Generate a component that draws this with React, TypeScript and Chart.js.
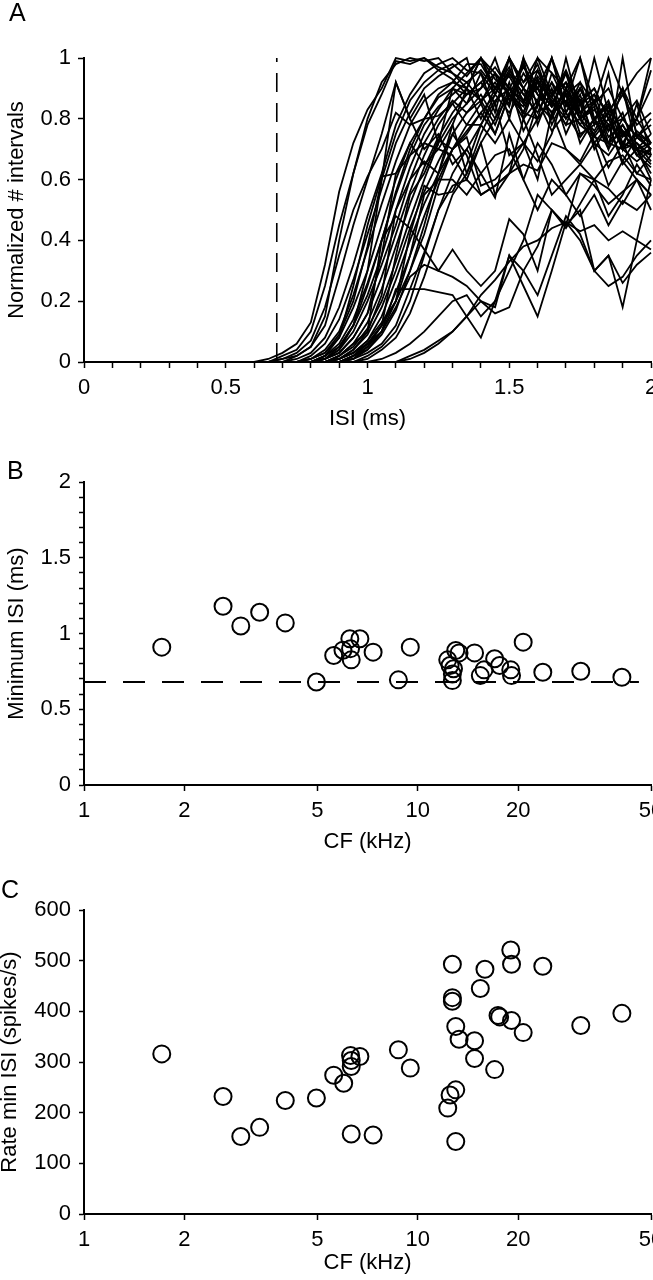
import React, { useEffect, useRef } from "react";
import { Chart, registerables } from "chart.js";

Chart.register(...registerables);

const FONT = "'Liberation Sans', Arial, Helvetica, sans-serif";
const FS = 22;

// ---------- Panel A data ----------
const ISI_MS = [0, 0.6, 0.65, 0.7, 0.75, 0.8, 0.85, 0.9, 0.95, 1.0, 1.05, 1.1, 1.15, 1.2, 1.25, 1.3, 1.35, 1.4, 1.45, 1.5, 1.55, 1.6, 1.65, 1.7, 1.75, 1.8, 1.85, 1.9, 1.95, 2.0];

const UNIT_CURVES: number[][] = [
  [0, 0, 0.01, 0.03, 0.06, 0.13, 0.32, 0.56, 0.72, 0.83, 0.9, 1.0, 0.99, 1.0, 0.97, 0.95, 0.9, 1.0, 0.9, 0.97, 0.85, 1.0, 0.88, 0.95, 0.8, 1.0, 0.82, 0.9, 0.75, 0.72],
  [0, 0, 0, 0.02, 0.04, 0.1, 0.25, 0.45, 0.62, 0.78, 0.88, 0.99, 0.98, 1.0, 0.96, 0.93, 0.88, 0.9, 1.0, 0.86, 0.98, 0.84, 1.0, 0.82, 0.92, 0.78, 0.95, 0.7, 0.85, 0.68],
  [0, 0, 0, 0.01, 0.03, 0.07, 0.18, 0.35, 0.5, 0.61, 0.7, 0.82, 0.78, 0.8, 0.81, 0.85, 0.78, 0.85, 0.75, 0.88, 0.82, 0.8, 0.86, 0.78, 0.8, 0.75, 0.82, 0.7, 0.72, 0.68],
  [0, 0, 0, 0, 0.02, 0.05, 0.12, 0.28, 0.45, 0.6, 0.75, 0.92, 0.8, 0.88, 0.72, 0.9, 0.85, 0.95, 0.88, 1.0, 0.9, 0.98, 0.85, 0.92, 0.8, 0.83, 0.76, 0.9, 0.7, 0.75],
  [0, 0, 0, 0, 0.01, 0.03, 0.08, 0.18, 0.32, 0.48, 0.62, 0.78, 0.88, 0.95, 0.98, 1.0, 0.96, 0.95, 0.82, 1.0, 0.8, 0.93, 0.78, 0.88, 0.72, 0.8, 0.7, 1.0, 0.74, 0.8],
  [0, 0, 0, 0, 0, 0.02, 0.06, 0.14, 0.27, 0.42, 0.57, 0.72, 0.82, 0.9, 0.94, 0.97, 1.0, 0.85, 0.95, 0.8, 1.0, 0.78, 0.9, 0.75, 0.85, 0.7, 0.78, 0.66, 0.74, 0.7],
  [0, 0, 0, 0, 0, 0.01, 0.04, 0.1, 0.22, 0.37, 0.52, 0.66, 0.78, 0.86, 0.9, 0.92, 0.98, 0.98, 0.9, 1.0, 0.92, 0.96, 0.88, 0.92, 0.85, 0.88, 0.82, 0.9, 0.8, 1.0],
  [0, 0, 0, 0, 0, 0.01, 0.03, 0.08, 0.18, 0.3, 0.45, 0.6, 0.72, 0.8, 0.87, 0.9, 0.88, 0.92, 0.85, 0.95, 0.88, 0.9, 0.8, 1.0, 0.82, 0.86, 0.74, 0.78, 0.7, 0.65],
  [0, 0, 0, 0, 0, 0, 0.02, 0.06, 0.14, 0.26, 0.4, 0.55, 0.68, 0.78, 0.84, 0.88, 0.92, 0.86, 0.78, 0.9, 0.82, 0.96, 0.84, 0.88, 0.8, 0.72, 0.78, 0.65, 0.7, 0.6],
  [0, 0, 0, 0, 0, 0, 0.02, 0.05, 0.12, 0.22, 0.35, 0.5, 0.64, 0.75, 0.83, 0.9, 0.95, 1.0, 0.93, 0.88, 0.97, 0.9, 1.0, 0.88, 0.92, 0.85, 0.9, 0.8, 0.86, 0.75],
  [0, 0, 0, 0, 0, 0, 0.01, 0.04, 0.1, 0.2, 0.32, 0.45, 0.6, 0.72, 0.8, 0.86, 0.82, 0.88, 0.8, 0.92, 0.76, 0.85, 0.92, 0.8, 0.88, 0.72, 0.68, 0.75, 0.7, 0.62],
  [0, 0, 0, 0, 0, 0, 0.01, 0.03, 0.08, 0.16, 0.28, 0.42, 0.56, 0.68, 0.78, 0.85, 0.9, 0.8, 0.9, 0.85, 0.95, 0.88, 0.82, 0.9, 0.75, 0.78, 0.82, 0.7, 0.76, 0.72],
  [0, 0, 0, 0, 0, 0, 0, 0.02, 0.06, 0.13, 0.24, 0.38, 0.52, 0.64, 0.74, 0.82, 0.88, 0.92, 0.97, 0.9, 0.85, 0.93, 0.87, 0.95, 0.82, 0.88, 0.76, 0.82, 0.68, 0.72],
  [0, 0, 0, 0, 0, 0, 0, 0.02, 0.05, 0.11, 0.2, 0.33, 0.47, 0.6, 0.72, 0.8, 0.85, 0.9, 0.95, 0.88, 0.82, 0.92, 0.86, 0.8, 0.86, 0.74, 0.8, 0.7, 0.66, 0.7],
  [0, 0, 0, 0, 0, 0, 0, 0.01, 0.04, 0.09, 0.18, 0.3, 0.44, 0.56, 0.66, 0.75, 0.82, 0.86, 0.9, 0.95, 0.88, 0.82, 0.92, 0.85, 0.78, 0.86, 0.72, 0.8, 0.74, 0.7],
  [0, 0, 0, 0, 0, 0, 0, 0.01, 0.03, 0.07, 0.15, 0.27, 0.4, 0.52, 0.62, 0.7, 0.78, 0.78, 0.88, 0.82, 0.9, 0.8, 0.95, 0.85, 1.0, 0.8, 0.85, 0.75, 0.8, 0.96],
  [0, 0, 0, 0, 0, 0, 0, 0, 0.02, 0.05, 0.12, 0.23, 0.35, 0.48, 0.6, 0.7, 0.76, 0.82, 0.75, 0.88, 0.8, 0.86, 0.76, 0.82, 0.74, 0.8, 0.72, 0.76, 0.68, 0.64],
  [0, 0, 0, 0, 0, 0, 0.02, 0.08, 0.25, 0.45, 0.61, 0.62, 0.72, 0.65, 0.7, 0.68, 0.6, 0.72, 0.55, 0.62, 0.8, 0.68, 0.55, 0.6, 0.65, 0.72, 0.58, 0.66, 0.6, 0.55],
  [0, 0, 0, 0, 0, 0, 0, 0.02, 0.06, 0.1, 0.22, 0.5, 0.6, 0.66, 0.62, 0.75, 0.68, 0.55, 0.58, 0.62, 0.7, 0.85, 0.8, 0.9, 0.82, 0.76, 0.84, 0.72, 0.7, 0.68],
  [0, 0, 0, 0, 0, 0, 0, 0, 0.02, 0.06, 0.12, 0.35, 0.55, 0.62, 0.73, 0.7, 0.74, 0.58, 0.6, 0.65, 0.72, 0.8, 0.86, 0.78, 0.9, 0.8, 0.72, 0.7, 0.75, 0.7],
  [0, 0, 0, 0, 0, 0, 0, 0, 0.01, 0.05, 0.1, 0.2, 0.42, 0.58, 0.55, 0.56, 0.65, 0.78, 0.72, 0.8, 0.72, 0.66, 0.75, 0.9, 0.8, 0.84, 0.7, 0.78, 0.7, 0.72],
  [0, 0, 0, 0, 0, 0, 0, 0, 0, 0.02, 0.05, 0.1, 0.2, 0.35, 0.5, 0.62, 0.7, 0.78, 0.86, 0.9, 0.86, 0.94, 0.88, 0.96, 0.85, 0.9, 0.8, 0.88, 0.78, 0.82],
  [0, 0, 0, 0, 0, 0, 0, 0, 0, 0.01, 0.04, 0.08, 0.16, 0.28, 0.42, 0.55, 0.62, 0.72, 0.8, 0.88, 0.84, 0.92, 0.87, 0.82, 0.9, 0.8, 0.86, 0.74, 0.8, 0.72],
  [0, 0, 0, 0, 0, 0, 0, 0, 0.01, 0.03, 0.06, 0.12, 0.24, 0.36, 0.5, 0.58, 0.6, 0.55, 0.58, 0.62, 0.65, 0.63, 0.72, 0.7, 0.65, 0.6, 0.66, 0.68, 0.62, 0.6],
  [0, 0, 0, 0, 0, 0, 0, 0, 0.01, 0.04, 0.1, 0.18, 0.28, 0.32, 0.3, 0.37, 0.3, 0.25, 0.3, 0.47, 0.42, 0.3, 0.5, 0.45, 0.62, 0.58, 0.52, 0.56, 0.6, 0.5],
  [0, 0, 0, 0, 0, 0, 0, 0, 0.02, 0.06, 0.1, 0.24, 0.24, 0.24, 0.23, 0.22, 0.15, 0.08, 0.2, 0.35, 0.25, 0.15, 0.3, 0.46, 0.4, 0.3, 0.25, 0.28, 0.35, 0.4],
  [0, 0, 0, 0, 0, 0, 0, 0, 0, 0, 0, 0, 0.02, 0.04, 0.07, 0.1, 0.15, 0.22, 0.27, 0.33, 0.38, 0.4, 0.44, 0.46, 0.43, 0.45, 0.4, 0.43, 0.4, 0.37],
  [0, 0, 0, 0, 0, 0, 0, 0, 0, 0, 0, 0, 0.01, 0.03, 0.06, 0.1, 0.15, 0.2, 0.16, 0.18, 0.3, 0.38, 0.5, 0.44, 0.52, 0.6, 0.48, 0.55, 0.65, 0.58],
  [0, 0, 0, 0, 0, 0, 0, 0, 0, 0, 0.01, 0.03, 0.06, 0.1, 0.15, 0.2, 0.22, 0.15, 0.2, 0.3, 0.4, 0.55, 0.5, 0.45, 0.5, 0.3, 0.35, 0.18, 0.4, 0.6],
  [0, 0, 0, 0, 0, 0, 0, 0.01, 0.04, 0.1, 0.4, 0.48, 0.44, 0.37, 0.3, 0.28, 0.25, 0.2, 0.18, 0.35, 0.3, 0.22, 0.35, 0.48, 0.42, 0.3, 0.35, 0.26, 0.32, 0.36],
  [0, 0, 0, 0, 0, 0, 0, 0.01, 0.03, 0.07, 0.13, 0.2, 0.35, 0.55, 0.6, 0.6, 0.55, 0.62, 0.54, 0.75, 0.6, 0.5, 0.6, 0.55, 0.48, 0.55, 0.45, 0.53, 0.5, 0.55],
  [0, 0, 0, 0, 0, 0, 0.01, 0.03, 0.08, 0.16, 0.35, 0.62, 0.68, 0.72, 0.7, 0.78, 0.62, 0.75, 0.85, 0.68, 0.72, 0.6, 0.82, 0.7, 0.66, 0.75, 0.64, 0.72, 0.62, 0.68],
  [0, 0, 0, 0, 0, 0, 0.01, 0.04, 0.12, 0.3, 0.6, 0.92, 0.8, 0.7, 0.75, 0.65, 0.7, 0.62, 0.68, 0.7, 0.6, 0.72, 0.65, 0.55, 0.62, 0.6, 0.57, 0.52, 0.6, 0.55],
  [0, 0, 0, 0, 0, 0, 0, 0.01, 0.03, 0.06, 0.12, 0.2, 0.3, 0.42, 0.58, 0.7, 0.75, 0.82, 0.88, 1.0, 0.92, 1.0, 0.95, 0.9, 1.0, 0.85, 1.0, 0.88, 0.95, 1.0],
  [0, 0, 0, 0, 0, 0, 0, 0, 0.02, 0.04, 0.09, 0.17, 0.3, 0.45, 0.62, 0.78, 0.9, 1.0, 0.95, 0.9, 0.98, 0.88, 0.82, 0.86, 0.78, 0.74, 0.72, 0.76, 0.68, 0.7],
  [0, 0, 0, 0.01, 0.02, 0.05, 0.15, 0.4, 0.62, 0.8, 0.92, 0.98, 1.0, 0.99, 1.0, 0.95, 0.92, 0.96, 0.9, 0.94, 0.86, 0.9, 0.84, 0.88, 0.8, 0.85, 0.78, 0.8, 0.74, 0.78],
  [0, 0, 0, 0, 0, 0.01, 0.03, 0.09, 0.2, 0.38, 0.6, 0.75, 0.86, 0.92, 0.96, 0.98, 0.94, 1.0, 0.88, 0.96, 0.9, 0.86, 1.0, 0.84, 0.9, 0.8, 0.84, 0.76, 0.72, 0.66],
  [0, 0, 0, 0, 0, 0, 0.01, 0.05, 0.12, 0.25, 0.4, 0.56, 0.7, 0.8, 0.88, 0.92, 0.9, 0.86, 0.92, 0.84, 1.0, 0.9, 0.84, 0.95, 0.86, 0.9, 0.8, 0.72, 0.8, 0.9],
];

const REF_ISI = 0.68;
const ISI_TICK_LABELS = ["0", "0.5", "1", "1.5", "2"];

// ---------- Panel B data ----------
const CF_B = [1.71, 2.61, 2.95, 3.36, 4.01, 4.97, 5.6, 5.97, 6.26, 6.29, 6.32, 6.71, 7.35, 8.75, 9.5, 12.3, 12.5, 12.7, 12.7, 12.8, 13.0, 13.3, 14.8, 15.4, 15.8, 17.0, 17.6, 19.0, 19.1, 20.7, 23.7, 30.8, 40.9];
const MIN_ISI_B = [0.91, 1.18, 1.05, 1.14, 1.07, 0.68, 0.855, 0.89, 0.965, 0.9, 0.826, 0.965, 0.877, 0.694, 0.91, 0.826, 0.789, 0.733, 0.689, 0.767, 0.888, 0.872, 0.872, 0.722, 0.76, 0.833, 0.789, 0.76, 0.722, 0.943, 0.744, 0.751, 0.711];

// ---------- Panel C data ----------
const CF_C = [1.71, 2.61, 2.95, 3.36, 4.01, 4.97, 5.6, 6.0, 6.29, 6.32, 6.32, 6.32, 6.71, 7.35, 8.75, 9.5, 12.3, 12.5, 12.7, 12.7, 12.7, 13.0, 13.0, 13.0, 13.3, 14.8, 14.8, 15.4, 15.9, 17.0, 17.4, 17.6, 19.0, 19.1, 19.1, 20.7, 23.7, 30.8, 40.9];
const RATE_C = [316, 232, 153, 171, 224, 229, 274, 258, 313, 303, 291, 158, 311, 156, 324, 288, 209, 235, 493, 427, 420, 245, 143, 370, 345, 342, 307, 445, 483, 285, 392, 389, 521, 493, 382, 358, 489, 372, 396];

const CF_TICKS = [1, 2, 5, 10, 20, 50];

const W = 653;

function axisBase(tickLen: number, pad: number) {
  return {
    border: { display: true, color: "#000", width: 2 },
    grid: {
      display: true,
      drawOnChartArea: false,
      drawTicks: true,
      tickLength: tickLen,
      tickWidth: 1.5,
      tickColor: "#000",
      color: "#000",
    },
    ticks: {
      color: "#000",
      font: { family: FONT, size: FS },
      padding: pad,
      autoSkip: false,
      maxRotation: 0,
      minRotation: 0,
    },
  };
}

const letterPlugin = {
  id: "panelLetter",
  afterDraw(chart: any, _args: any, opts: any) {
    if (!opts || !opts.text) return;
    const ctx = chart.ctx;
    ctx.save();
    ctx.fillStyle = "#000";
    ctx.font = `25px ${FONT}`;
    ctx.textBaseline = "alphabetic";
    ctx.textAlign = "left";
    ctx.fillText(opts.text, opts.x, opts.y);
    ctx.restore();
  },
};

const fitX = (H: number, bottom: number) => (s: any) => {
  s.height = H - bottom;
  s.paddingLeft = 0;
  s.paddingRight = 0;
};
const fitY = (s: any) => {
  s.width = 84;
  s.paddingTop = 0;
  s.paddingBottom = 0;
};

function logXAxis(H: number, plotBottom: number, titlePadBottom: number) {
  const base: any = axisBase(6, 7);
  return {
    ...base,
    type: "logarithmic",
    min: 1,
    max: 50,
    afterBuildTicks: (scale: any) => {
      scale.ticks = CF_TICKS.map((v) => ({ value: v }));
    },
    afterFit: fitX(H, plotBottom),
    ticks: { ...base.ticks, callback: (v: any) => String(v) },
    title: {
      display: true,
      text: "CF (kHz)",
      color: "#000",
      font: { family: FONT, size: FS, lineHeight: 1.2 },
      padding: { top: 0, bottom: titlePadBottom },
    },
  };
}

export default function App() {
  const refA = useRef<HTMLCanvasElement>(null);
  const refB = useRef<HTMLCanvasElement>(null);
  const refC = useRef<HTMLCanvasElement>(null);

  useEffect(() => {
    const charts: Chart[] = [];

    // ---------- Panel A ----------
    const HA = 432;
    const topA = 58;
    const botA = 362;
    const baseXA: any = axisBase(6, 7);
    const baseYA: any = axisBase(6, 7);
    const curveSets: any[] = UNIT_CURVES.map((c) => ({
      type: "line",
      data: ISI_MS.map((x, i) => ({ x, y: c[i] })),
      borderColor: "#000",
      borderWidth: 1.8,
      pointRadius: 0,
      tension: 0,
      clip: false,
    }));
    curveSets.push({
      type: "line",
      data: [
        { x: REF_ISI, y: 0 },
        { x: REF_ISI, y: 1 },
      ],
      borderColor: "#000",
      borderWidth: 1.6,
      borderDash: [19, 11],
      pointRadius: 0,
      clip: false,
    });
    charts.push(
      new Chart(refA.current!, {
        type: "line",
        data: { datasets: curveSets },
        plugins: [letterPlugin],
        options: {
          animation: false,
          responsive: false,
          devicePixelRatio: 1,
          layout: { autoPadding: false, padding: { top: topA, right: 2, left: 0, bottom: 0 } },
          plugins: {
            legend: { display: false },
            tooltip: { enabled: false },
            panelLetter: { text: "A", x: 9, y: 21 },
          } as any,
          scales: {
            x: {
              ...baseXA,
              type: "linear",
              min: 0,
              max: 2,
              afterFit: fitX(HA, botA),
              ticks: {
                ...baseXA.ticks,
                stepSize: 0.1,
                callback: (v: any) => {
                  const k = Math.round(Number(v) * 2);
                  return Math.abs(Number(v) * 2 - k) < 1e-6 ? ISI_TICK_LABELS[k] : "";
                },
              },
              title: {
                display: true,
                text: "ISI (ms)",
                color: "#000",
                font: { family: FONT, size: FS, lineHeight: 1.2 },
                padding: { top: 0, bottom: 0 },
              },
            },
            y: {
              ...baseYA,
              type: "linear",
              min: 0,
              max: 1,
              afterFit: fitY,
              ticks: {
                ...baseYA.ticks,
                stepSize: 0.2,
                callback: (v: any) => String(Math.round(Number(v) * 10) / 10),
              },
              title: {
                display: true,
                text: "Normalized # intervals",
                color: "#000",
                font: { family: FONT, size: FS, lineHeight: 1.2 },
                padding: { top: 4, bottom: 0 },
              },
            },
          },
        } as any,
      })
    );

    // ---------- Panel B ----------
    const HB = 424;
    const topB = 50;
    const botB = 353;
    const baseYB: any = axisBase(5, 8);
    charts.push(
      new Chart(refB.current!, {
        type: "scatter",
        data: {
          datasets: [
            {
              type: "line",
              data: [
                { x: 1, y: REF_ISI },
                { x: 46, y: REF_ISI },
              ],
              borderColor: "#000",
              borderWidth: 1.8,
              borderDash: [22, 17],
              pointRadius: 0,
            },
            {
              type: "scatter",
              data: CF_B.map((x, i) => ({ x, y: MIN_ISI_B[i] })),
              pointStyle: "circle",
              pointRadius: 8.5,
              borderColor: "#000",
              backgroundColor: "rgba(0,0,0,0)",
              borderWidth: 2,
              clip: false,
            },
          ] as any,
        },
        plugins: [letterPlugin],
        options: {
          animation: false,
          responsive: false,
          devicePixelRatio: 1,
          layout: { autoPadding: false, padding: { top: topB, right: 2, left: 0, bottom: 0 } },
          plugins: {
            legend: { display: false },
            tooltip: { enabled: false },
            panelLetter: { text: "B", x: 7, y: 47 },
          } as any,
          scales: {
            x: logXAxis(HB, botB, 1),
            y: {
              ...baseYB,
              type: "linear",
              min: 0,
              max: 2,
              afterFit: fitY,
              ticks: {
                ...baseYB.ticks,
                stepSize: 0.1,
                callback: (v: any) => {
                  const n = Number(v);
                  return Math.abs(n * 2 - Math.round(n * 2)) < 1e-6 ? String(Math.round(n * 2) / 2) : "";
                },
              },
              title: {
                display: true,
                text: "Minimum ISI (ms)",
                color: "#000",
                font: { family: FONT, size: FS, lineHeight: 1.2 },
                padding: { top: 4, bottom: 0 },
              },
            },
          },
        } as any,
      })
    );

    // ---------- Panel C ----------
    const HC = 424;
    const topC = 54;
    const botC = 358;
    const baseYC: any = axisBase(5, 8);
    charts.push(
      new Chart(refC.current!, {
        type: "scatter",
        data: {
          datasets: [
            {
              data: CF_C.map((x, i) => ({ x, y: RATE_C[i] })),
              pointStyle: "circle",
              pointRadius: 8.5,
              borderColor: "#000",
              backgroundColor: "rgba(0,0,0,0)",
              borderWidth: 2,
              clip: false,
            },
          ] as any,
        },
        plugins: [letterPlugin],
        options: {
          animation: false,
          responsive: false,
          devicePixelRatio: 1,
          layout: { autoPadding: false, padding: { top: topC, right: 2, left: 0, bottom: 0 } },
          plugins: {
            legend: { display: false },
            tooltip: { enabled: false },
            panelLetter: { text: "C", x: 1, y: 42 },
          } as any,
          scales: {
            x: logXAxis(HC, botC, 4),
            y: {
              ...baseYC,
              type: "linear",
              min: 0,
              max: 600,
              afterFit: fitY,
              ticks: { ...baseYC.ticks, stepSize: 100 },
              title: {
                display: true,
                text: "Rate min ISI (spikes/s)",
                color: "#000",
                font: { family: FONT, size: FS, lineHeight: 1.2 },
                padding: { top: -3, bottom: 0 },
              },
            },
          },
        } as any,
      })
    );

    return () => charts.forEach((c) => c.destroy());
  }, []);

  const box = (h: number): React.CSSProperties => ({ display: "block", width: W, height: h });

  return (
    <div style={{ position: "absolute", left: 0, top: 0, width: W, height: 1280, background: "#fff" }}>
      <canvas ref={refA} width={W} height={432} style={box(432)} />
      <canvas ref={refB} width={W} height={424} style={box(424)} />
      <canvas ref={refC} width={W} height={424} style={box(424)} />
    </div>
  );
}
